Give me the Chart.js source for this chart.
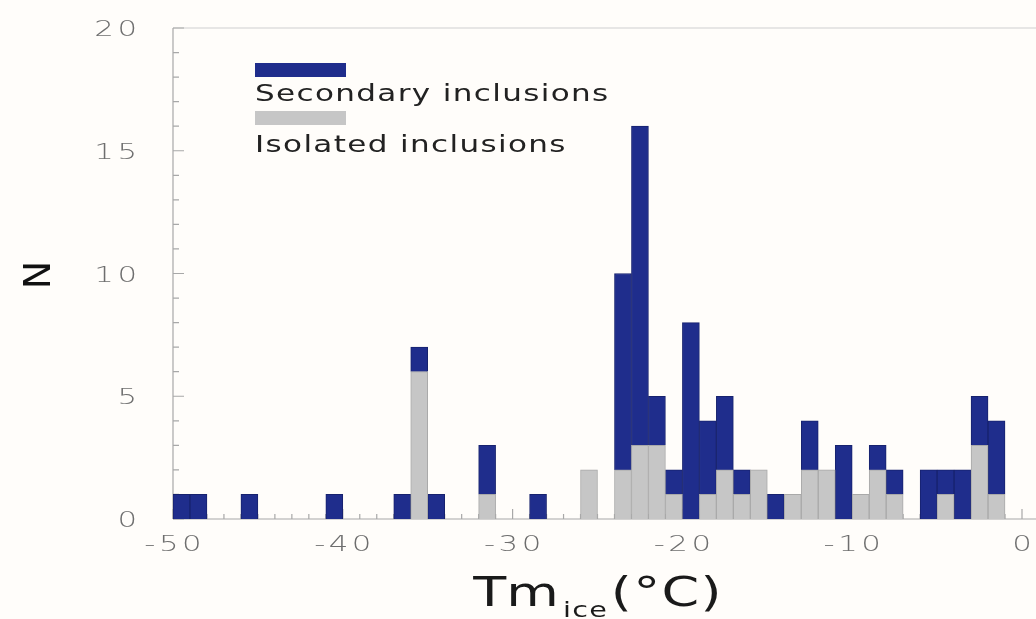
<!DOCTYPE html>
<html>
<head>
<meta charset="utf-8">
<script src="https://cdn.jsdelivr.net/npm/chart.js@4.4.1/dist/chart.umd.min.js"></script>
<style>
    html, body { margin: 0; padding: 0; background: #fffdfa; }
    #wrap { width: 1036px; height: 619px; position: relative; }
</style>
</head>
<body>
<div id="wrap"><canvas id="histChart" width="1036" height="619"></canvas></div>
<script>
// bin centres, 1 degree bins from -50 to 0
const binCentres = [
    -49.5, -48.5, -47.5, -46.5, -45.5, -44.5, -43.5, -42.5, -41.5, -40.5,
    -39.5, -38.5, -37.5, -36.5, -35.5, -34.5, -33.5, -32.5, -31.5, -30.5,
    -29.5, -28.5, -27.5, -26.5, -25.5, -24.5, -23.5, -22.5, -21.5, -20.5,
    -19.5, -18.5, -17.5, -16.5, -15.5, -14.5, -13.5, -12.5, -11.5, -10.5,
    -9.5, -8.5, -7.5, -6.5, -5.5, -4.5, -3.5, -2.5, -1.5, -0.5
];

const isolated = [
    0, 0, 0, 0, 0, 0, 0, 0, 0, 0,
    0, 0, 0, 0, 6, 0, 0, 0, 1, 0,
    0, 0, 0, 0, 2, 0, 2, 3, 3, 1,
    0, 1, 2, 1, 2, 0, 1, 2, 2, 0,
    1, 2, 1, 0, 0, 1, 0, 3, 1, 0
];

const secondary = [
    1, 1, 0, 0, 1, 0, 0, 0, 0, 1,
    0, 0, 0, 1, 1, 1, 0, 0, 2, 0,
    0, 1, 0, 0, 0, 0, 8, 13, 2, 1,
    8, 3, 3, 1, 0, 1, 0, 2, 0, 3,
    0, 1, 1, 0, 2, 1, 2, 2, 3, 0
];

const yTicks = [0, 5, 10, 15, 20];
const xTicks = [-50, -40, -30, -20, -10, 0];

const blue = '#1f2d8c';
const grey = '#c6c6c6';

// draws text with a wide, extended look
function wideText(ctx, text, x, y, size, align, color, sx, spacing, weight) {
    ctx.save();
    ctx.font = (weight || 'normal') + ' ' + size + 'px "DejaVu Sans"';
    ctx.letterSpacing = spacing + 'px';
    ctx.fillStyle = color;
    ctx.textBaseline = 'alphabetic';
    ctx.textAlign = 'left';
    const w = (ctx.measureText(text).width - spacing) * sx;
    let left = x;
    if (align === 'center') left = x - w / 2;
    if (align === 'right') left = x - w;
    ctx.translate(left, y);
    ctx.scale(sx, 1);
    ctx.fillText(text, 0, 0);
    ctx.restore();
    return w;
}

const framePlugin = {
    id: 'frame',
    beforeDraw(chart) {
        const ctx = chart.ctx;
        ctx.save();
        ctx.fillStyle = '#fffdfa';
        ctx.fillRect(0, 0, chart.width, chart.height);
        ctx.restore();
    },
    beforeDatasetsDraw(chart) {
        const { ctx, chartArea: a, scales: { x, y } } = chart;
        ctx.save();
        ctx.lineWidth = 1.2;
        ctx.strokeStyle = '#d0d0d0';
        ctx.beginPath();
        ctx.moveTo(a.left, a.top);
        ctx.lineTo(chart.width, a.top);
        ctx.stroke();

        ctx.strokeStyle = '#a8a8a8';
        ctx.beginPath();
        ctx.moveTo(a.left, a.top);
        ctx.lineTo(a.left, a.bottom);
        ctx.moveTo(a.left, a.bottom);
        ctx.lineTo(chart.width, a.bottom);
        ctx.stroke();

        // inward ticks
        ctx.beginPath();
        for (let v = 0; v <= 20; v++) {
            const py = y.getPixelForValue(v);
            const len = v % 5 === 0 ? 11 : 6;
            ctx.moveTo(a.left, py);
            ctx.lineTo(a.left + len, py);
        }
        for (let v = -50; v <= 0; v++) {
            const px = x.getPixelForValue(v);
            const len = v % 10 === 0 ? 10 : 5;
            ctx.moveTo(px, a.bottom);
            ctx.lineTo(px, a.bottom - len);
        }
        ctx.stroke();
        ctx.restore();
    },
    afterDraw(chart) {
        const { ctx, chartArea: a, scales: { x, y } } = chart;

        yTicks.forEach(v => {
            wideText(ctx, String(v), a.left - 36, y.getPixelForValue(v) + 8, 22, 'right', '#6e6e6e', 1.4, 2.5, 200);
        });
        xTicks.forEach(v => {
            wideText(ctx, String(v), x.getPixelForValue(v), 551, 22, 'center', '#6e6e6e', 1.4, 2.5, 200);
        });

        // legend
        const ds = chart.data.datasets;
        ctx.save();
        ctx.fillStyle = ds[1].backgroundColor;
        ctx.fillRect(255, 63, 91, 14);
        ctx.fillStyle = ds[0].backgroundColor;
        ctx.fillRect(255, 111, 91, 14);
        ctx.restore();
        wideText(ctx, ds[1].label, 255, 101, 23, 'left', '#222', 1.35, 1);
        wideText(ctx, ds[0].label, 255, 152, 23, 'left', '#222', 1.35, 1);

        // x title: Tm_ice (°C)
        const cx = (a.left + a.right) / 2;
        const w1 = wideText(ctx, 'Tm', -1000, 0, 40, 'left', '#1a1a1a', 1.35, 0);
        const w2 = wideText(ctx, 'ice', -1000, 0, 22, 'left', '#1a1a1a', 1.3, 1);
        const w3 = wideText(ctx, '(°C)', -1000, 0, 40, 'left', '#1a1a1a', 1.35, 1);
        let left = cx - (w1 + w2 + w3 + 8) / 2;
        wideText(ctx, 'Tm', left, 606, 40, 'left', '#1a1a1a', 1.35, 0);
        left += w1 + 4;
        wideText(ctx, 'ice', left, 617, 22, 'left', '#1a1a1a', 1.3, 1);
        left += w2 + 4;
        wideText(ctx, '(°C)', left, 606, 40, 'left', '#1a1a1a', 1.35, 1);

        // y title: N
        ctx.save();
        ctx.translate(50, 275);
        ctx.rotate(-Math.PI / 2);
        ctx.font = '38px "DejaVu Sans"';
        ctx.fillStyle = '#111';
        ctx.textAlign = 'center';
        ctx.textBaseline = 'alphabetic';
        ctx.fillText('N', 0, 0);
        ctx.restore();
    }
};

const ctx = document.getElementById('histChart').getContext('2d');

new Chart(ctx, {
    type: 'bar',
    data: {
        datasets: [
            {
                label: 'Isolated inclusions',
                data: binCentres.map((c, i) => ({ x: c, y: isolated[i] || null })),
                backgroundColor: grey,
                borderColor: '#a9a9a9',
                borderWidth: 1,
                barPercentage: 1,
                categoryPercentage: 1
            },
            {
                label: 'Secondary inclusions',
                data: binCentres.map((c, i) => ({ x: c, y: secondary[i] || null })),
                backgroundColor: blue,
                borderColor: '#17226e',
                borderWidth: 1,
                barPercentage: 1,
                categoryPercentage: 1
            }
        ]
    },
    options: {
        responsive: false,
        animation: false,
        layout: { padding: { left: 0, right: 14, top: 28, bottom: 0 } },
        plugins: {
            legend: { display: false },
            tooltip: { enabled: false }
        },
        scales: {
            x: {
                type: 'linear',
                stacked: true,
                offset: false,
                min: -50,
                max: 0,
                ticks: { display: false, stepSize: 10 },
                grid: { display: false },
                border: { display: false },
                afterFit: s => { s.height = 100; }
            },
            y: {
                stacked: true,
                min: 0,
                max: 20,
                ticks: { display: false, stepSize: 5 },
                grid: { display: false },
                border: { display: false },
                afterFit: s => { s.width = 173; }
            }
        }
    },
    plugins: [framePlugin]
});
</script>
</body>
</html>
